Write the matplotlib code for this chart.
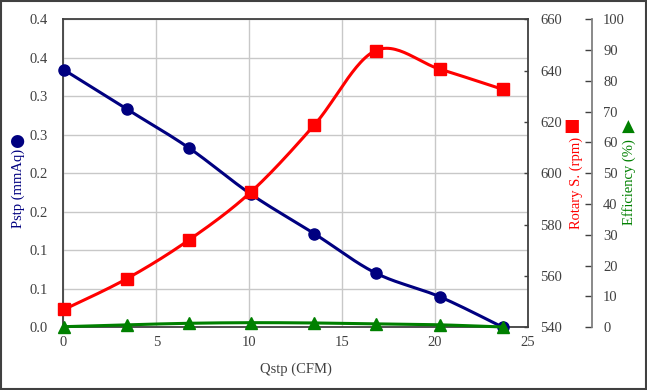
import numpy as np
import matplotlib
matplotlib.use('Agg')
import matplotlib.pyplot as plt
from matplotlib.patches import Rectangle

# Data
qstp = [0.05, 3.4, 6.75, 10.1, 13.5, 16.8, 20.25, 23.65]          # CFM
pstp = [0.334, 0.2835, 0.233, 0.1727, 0.1216, 0.0705, 0.0397, 0.0]  # mmAq
rpm = [547.0, 558.9, 574.0, 592.8, 618.8, 647.8, 640.6, 632.7]      # rpm
eff = [0.2, 0.8, 1.3, 1.5, 1.4, 1.1, 0.8, 0.1]                      # %

# Tick labels as printed on the chart (one decimal)
left_ticks = [0.0, 0.05, 0.10, 0.15, 0.20, 0.25, 0.30, 0.35, 0.40]
left_labels = ['0.0', '0.1', '0.1', '0.2', '0.2', '0.3', '0.3', '0.4', '0.4']
x_ticks = [0, 5, 10, 15, 20, 25]
rpm_ticks = [540, 560, 580, 600, 620, 640, 660]
eff_ticks = [0, 10, 20, 30, 40, 50, 60, 70, 80, 90, 100]

NAVY = '#000080'
RED = '#ff0000'
GREEN = '#008000'
TXT = '#404040'

plt.rcParams['font.family'] = ['Liberation Serif', 'DejaVu Sans']


def smooth(x, y, xlim, ylim, w=464.0, h=308.0, n=30):
    # Excel-like smoothed line (Catmull-Rom through the points, in screen-ish units)
    px = (np.asarray(x) - xlim[0]) / (xlim[1] - xlim[0]) * w
    py = (np.asarray(y) - ylim[0]) / (ylim[1] - ylim[0]) * h
    P = np.column_stack([px, py])
    P = np.vstack([P[0], P, P[-1]])
    out = []
    for i in range(1, len(P) - 2):
        p0, p1, p2, p3 = P[i - 1], P[i], P[i + 1], P[i + 2]
        c1 = p1 + (p2 - p0) / 6.0
        c2 = p2 - (p3 - p1) / 6.0
        t = np.linspace(0, 1, n)[:, None]
        seg = ((1 - t) ** 3) * p1 + 3 * ((1 - t) ** 2) * t * c1 + 3 * (1 - t) * t ** 2 * c2 + t ** 3 * p2
        out.append(seg if i == 1 else seg[1:])
    out = np.vstack(out)
    sx = out[:, 0] / w * (xlim[1] - xlim[0]) + xlim[0]
    sy = out[:, 1] / h * (ylim[1] - ylim[0]) + ylim[0]
    return sx, sy


fig = plt.figure(figsize=(6.47, 3.90), dpi=100)
ax = fig.add_axes([0.0981, 0.1608, 0.7179, 0.7897])

xlim = (0, 25)
ylim1 = (0, 0.4)
ylim2 = (540, 660)
ylim3 = (0, 100)

# Pstp
sx, sy = smooth(qstp, pstp, xlim, ylim1)
ax.plot(sx, sy, color=NAVY, lw=2.2, clip_on=False, zorder=3)
ax.plot(qstp, pstp, 'o', color=NAVY, ms=8, clip_on=False, zorder=4)
ax.set_xlim(*xlim)
ax.set_ylim(*ylim1)
ax.set_xticks(x_ticks)
ax.set_yticks(left_ticks)
ax.set_yticklabels(left_labels)
ax.grid(True, color='#c8c8c8', lw=1.0)
ax.set_axisbelow(True)
ax.tick_params(axis='both', length=0, labelsize=10.5, colors=TXT)
ax.tick_params(axis='y', pad=11)
ax.tick_params(axis='x', pad=6)
for s in ax.spines.values():
    s.set_color(TXT)
    s.set_linewidth(1.3)
ax.set_xlabel('Qstp (CFM)', fontsize=10.5, color=TXT, labelpad=10)

# Rotary speed
ax2 = ax.twinx()
sx, sy = smooth(qstp, rpm, xlim, ylim2)
ax2.plot(sx, sy, color=RED, lw=2.2, clip_on=False, zorder=3)
ax2.plot(qstp, rpm, 's', color=RED, ms=8, clip_on=False, zorder=4)
ax2.set_ylim(*ylim2)
ax2.set_yticks(rpm_ticks)
ax2.tick_params(axis='y', direction='in', length=3, width=1, labelsize=10.5,
                colors=TXT, pad=9)
for s in ax2.spines.values():
    s.set_visible(False)

# Efficiency
ax3 = ax.twinx()
ax3.spines['right'].set_position(('axes', 1.138))
sx, sy = smooth(qstp, eff, xlim, ylim3)
ax3.plot(sx, sy, color=GREEN, lw=2.2, clip_on=False, zorder=3)
ax3.plot(qstp, eff, '^', color=GREEN, ms=8, clip_on=False, zorder=4)
ax3.set_ylim(*ylim3)
ax3.set_yticks(eff_ticks)
ax3.tick_params(axis='y', direction='in', length=5, width=1, labelsize=10.5,
                colors=TXT, pad=8)
for k, s in ax3.spines.items():
    s.set_visible(k == 'right')
ax3.spines['right'].set_color('#808080')
ax3.spines['right'].set_linewidth(1.3)

# Axis titles with their series symbols
fig.text(0.0278, 0.516, 'Pstp (mmAq)', rotation=90, ha='center', va='center',
         fontsize=10.5, color=NAVY)
fig.text(0.0263, 0.638, '●', ha='center', va='center', fontsize=12.5,
         color=NAVY, family='DejaVu Sans')
fig.text(0.890, 0.531, 'Rotary S. (rpm)', rotation=90, ha='center', va='center',
         fontsize=10.5, color=RED)
fig.text(0.8836, 0.676, '■', ha='center', va='center', fontsize=12.5,
         color=RED, family='DejaVu Sans')
fig.text(0.972, 0.532, 'Efficiency (%)', rotation=90, ha='center', va='center',
         fontsize=10.5, color=GREEN)
fig.text(0.9717, 0.674, '▲', ha='center', va='center', fontsize=12,
         color=GREEN, family='DejaVu Sans')

# Outer frame
fig.patches.append(Rectangle((0.002, 0.003), 0.996, 0.994, transform=fig.transFigure,
                             fill=False, ec='#404040', lw=1.5))

fig.savefig('out.png', dpi=100)
